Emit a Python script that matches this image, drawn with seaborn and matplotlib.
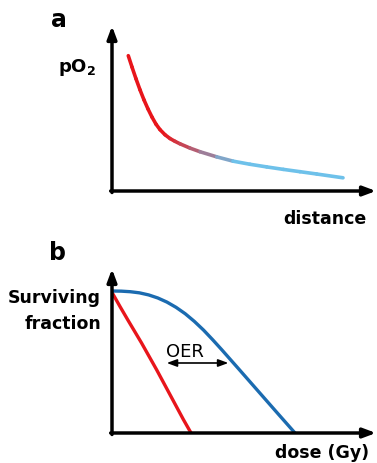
import numpy as np
import pandas as pd
import matplotlib
matplotlib.use("Agg")
import matplotlib.pyplot as plt
from matplotlib.collections import LineCollection
from matplotlib.colors import to_rgb
import seaborn as sns

# ---------------- data ----------------
# panel a: pO2 versus distance (arbitrary units)
distance = [0.617, 0.758, 0.909, 1.061, 1.212, 1.364, 1.515, 1.667, 1.818,
            2.008, 2.197, 2.386, 2.576, 2.955, 3.333, 3.966, 4.583, 5.227,
            5.86, 6.489, 7.121, 7.754, 8.75]
po2 = [8.20, 7.51, 6.80, 6.13, 5.52, 4.97, 4.48, 4.05, 3.72,
       3.41, 3.18, 3.01, 2.86, 2.60, 2.38, 2.07, 1.81, 1.62,
       1.46, 1.31, 1.17, 1.03, 0.80]

# panel b: surviving fraction versus dose
dose_oxic = [0.0, 0.44, 0.87, 1.61, 2.44, 3.17, 3.9, 4.32]
sf_oxic = [0.99, 0.89, 0.795, 0.635, 0.445, 0.27, 0.095, 0.0]
dose_hypoxic = [0, 0.5, 1, 1.5, 2, 2.5, 3, 3.5, 4, 4.5, 5, 5.5, 6, 6.5, 7,
                8, 9, 10]
sf_hypoxic = [1.0, 0.999, 0.995, 0.987, 0.9725, 0.951, 0.922, 0.885, 0.84,
              0.786, 0.725, 0.657, 0.586, 0.513, 0.44, 0.293, 0.146, 0.0]

oer_range = [2.99, 6.36]
oer_level = 0.493

RED = "#e8151b"
LIGHTBLUE = "#6ec1ea"
BLUE = "#1b6bb0"

W, H = 377, 464
sns.set_style("white")
plt.rcParams["font.family"] = ["DejaVu Sans"]
plt.rcParams["text.color"] = "black"

fig = plt.figure(figsize=(W / 100, H / 100), dpi=100)


def fx(px):
    return px / W


def fy(py):
    return 1 - py / H


def draw_axes_arrows(ax):
    for s in ax.spines.values():
        s.set_visible(False)
    ax.set_xticks([])
    ax.set_yticks([])
    props = dict(arrowstyle="-|>,head_length=0.75,head_width=0.28",
                 mutation_scale=10, lw=2.5, color="black",
                 shrinkA=0, shrinkB=0)
    ax.annotate("", xy=(0, 1), xytext=(0, -0.009), xycoords="axes fraction",
                textcoords="axes fraction", arrowprops=props)
    ax.annotate("", xy=(1, 0), xytext=(-0.005, 0), xycoords="axes fraction",
                textcoords="axes fraction", arrowprops=props)
    ax.patch.set_alpha(0)


# ---------------- panel a ----------------
ax_a = fig.add_axes([fx(112), fy(192), fx(376 - 112), (192 - 27) / H])
ax_a.set_xlim(0, 10)
ax_a.set_ylim(0, 10)
draw_axes_arrows(ax_a)

x = np.asarray(distance)
y = np.asarray(po2)
pts = np.column_stack([x, y])
segs = np.stack([pts[:-1], pts[1:]], axis=1)
mid = (x[:-1] + x[1:]) / 2
t = np.clip((mid - 2.0) / (4.7 - 2.0), 0, 1)
c0 = np.array(to_rgb(RED))
c1 = np.array(to_rgb(LIGHTBLUE))
cols = [tuple(c0 * (1 - ti) + c1 * ti) for ti in t]
lc = LineCollection(segs, colors=cols, linewidths=2.6, capstyle="round",
                    joinstyle="round")
ax_a.add_collection(lc)

# ---------------- panel b ----------------
ax_b = fig.add_axes([fx(112), fy(434), fx(376 - 112), (434 - 270) / H])
ax_b.set_xlim(0, (376 - 112) / 18.3)
ax_b.set_ylim(0, (434 - 270) / 142)
draw_axes_arrows(ax_b)

df_ox = pd.DataFrame({"dose": dose_oxic, "sf": sf_oxic})
df_hy = pd.DataFrame({"dose": dose_hypoxic, "sf": sf_hypoxic})
sns.lineplot(data=df_ox, x="dose", y="sf", ax=ax_b, color=RED, lw=2.4,
             solid_capstyle="butt")
sns.lineplot(data=df_hy, x="dose", y="sf", ax=ax_b, color=BLUE, lw=2.4,
             solid_capstyle="butt")
ax_b.set_xlabel("")
ax_b.set_ylabel("")
ax_b.set_xticks([])
ax_b.set_yticks([])

ax_b.annotate("", xy=(oer_range[1], oer_level), xytext=(oer_range[0], oer_level),
              arrowprops=dict(arrowstyle="<|-|>,head_length=0.6,head_width=0.22",
                              mutation_scale=10, lw=1.2, color="black",
                              shrinkA=0, shrinkB=0))
ax_b.text(2.95, 0.542, "OER", fontsize=13, ha="left", va="baseline",
          color="black")

# ---------------- labels ----------------
kw = dict(weight="bold", color="black", va="baseline")
fig.text(fx(51), fy(26.7), "a", fontsize=17, ha="left", **kw)
fig.text(fx(49), fy(260.5), "b", fontsize=17, ha="left", **kw)
fig.text(fx(58), fy(71.7), r"pO$_\mathbf{2}$", fontsize=13, ha="left", **kw)
fig.text(fx(366), fy(224), "distance", fontsize=12.5, ha="right", **kw)
fig.text(fx(101), fy(302.7), "Surviving", fontsize=12.5, ha="right", **kw)
fig.text(fx(101), fy(328.7), "fraction", fontsize=12.5, ha="right", **kw)
fig.text(fx(369), fy(458), "dose (Gy)", fontsize=12.5, ha="right", **kw)

fig.savefig("out.png", dpi=100)
